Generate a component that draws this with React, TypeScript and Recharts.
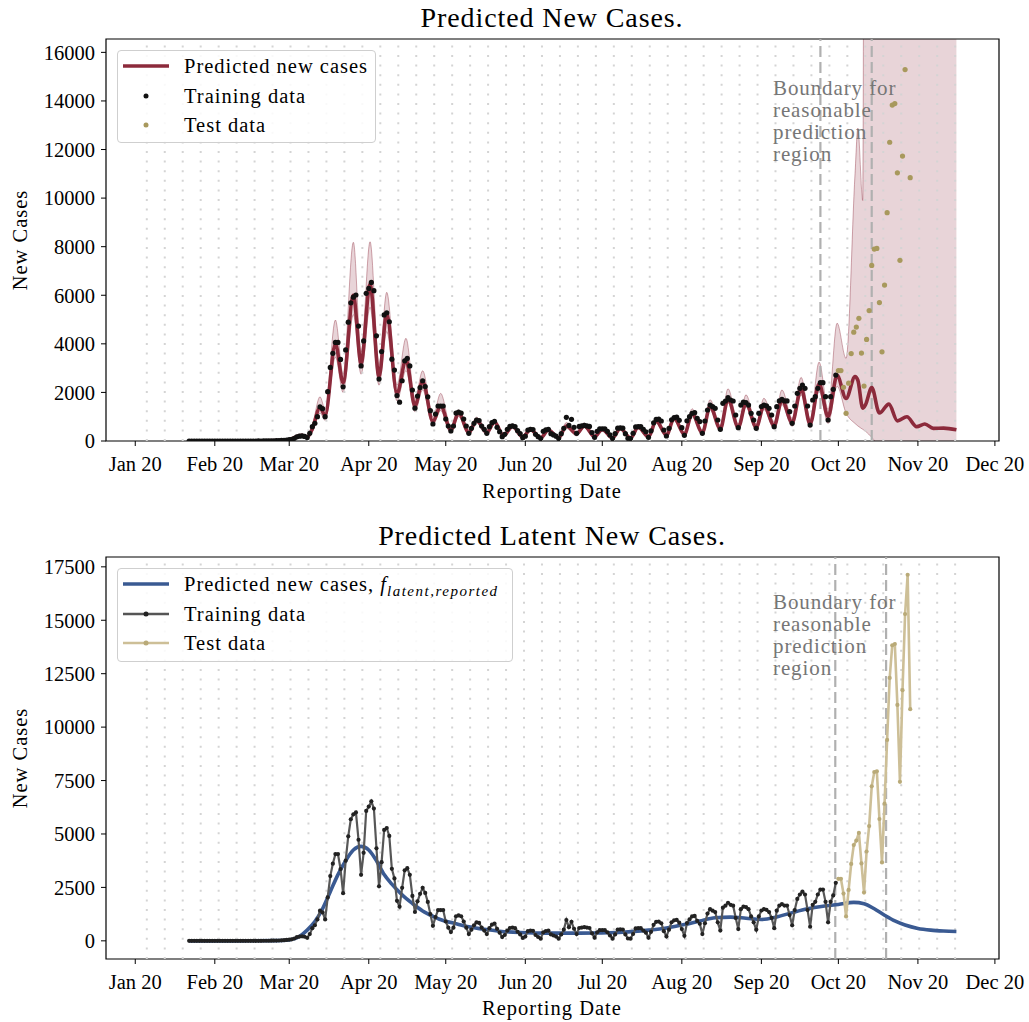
import React from 'react';
import {
  ComposedChart,
  Line,
  Area,
  Scatter,
  XAxis,
  YAxis,
  ReferenceLine,
  ReferenceArea,
} from 'recharts';

const FONT = '"Liberation Serif", "Times New Roman", serif';
const RED = '#8c2a3b';
const BLUE = '#3a5a92';
const OLIVE = '#a8995d';
const TAN = '#cdbf97';
const TAN_DOT = '#b9aa78';
const GRID = '#d4d4d4';
const BOUNDARY = '#b0b0b0';

// x is measured in days since 1 Jan 2020
const X_MIN = -11.4;
const X_MAX = 336.6;

const monthTicks = [0, 31, 60, 91, 121, 152, 182, 213, 244, 274, 305, 335];
const monthLabels = ['Jan 20', 'Feb 20', 'Mar 20', 'Apr 20', 'May 20', 'Jun 20', 'Jul 20', 'Aug 20', 'Sep 20', 'Oct 20', 'Nov 20', 'Dec 20'];

const topYTicks = [0, 2000, 4000, 6000, 8000, 10000, 12000, 14000, 16000];
const bottomYTicks = [0, 2500, 5000, 7500, 10000, 12500, 15000, 17500];
const TOP_Y: [number, number] = [0, 16550];
const BOTTOM_Y: [number, number] = [-850, 17960];

const topBoundaries = [267, 287];
const bottomBoundaries = [272.8, 292.6];

// weekly dotted guides
const weeklyGuides = Array.from({ length: 46 }, (_, i) => 4.5 + 7 * i);

// reported daily new cases used for fitting (first value is 22 Jan)
const trainStart = 21;
const trainCases = [
  0, 0, 0, 0, 0, 0, 0, 0, 0, 0,
  0, 0, 0, 0, 0, 0, 0, 0, 0, 0,
  0, 0, 0, 0, 0, 1, 0, 2, 1, 3,
  5, 4, 8, 10, 12, 15, 22, 30, 42, 55,
  70, 110, 170, 200, 210, 190, 140, 316, 590, 730,
  1000, 1410, 1330, 1000, 2030, 3030, 3610, 4060, 4060, 3360,
  2230, 3750, 4890, 5690, 5920, 6010, 4730, 3090, 4120, 6080,
  6280, 6530, 6190, 4330, 2550, 3680, 5190, 5280, 4910, 3370,
  2920, 1870, 1600, 2480, 3300, 3400, 3090, 2100, 1350, 1850,
  2200, 2480, 2240, 1820, 1250, 700, 1110, 1440, 1440, 1440,
  905, 617, 411, 617, 1150, 1190, 1150, 905, 617, 316,
  521, 727, 864, 840, 617, 480, 316, 590, 754, 810,
  562, 384, 178, 274, 480, 600, 620, 590, 425, 300,
  137, 200, 450, 480, 470, 274, 180, 100, 400, 460,
  480, 300, 250, 200, 100, 300, 520, 975, 640, 893,
  565, 315, 600, 620, 640, 620, 600, 350, 150, 400,
  500, 500, 500, 400, 250, 100, 300, 530, 540, 530,
  300, 110, 100, 320, 580, 590, 590, 480, 380, 150,
  420, 750, 890, 900, 823, 452, 206, 521, 870, 960,
  980, 850, 550, 233, 830, 1000, 1140, 1166, 933, 800,
  316, 823, 1276, 1481, 1413, 1345, 864, 480, 1551, 1646,
  1783, 1687, 1646, 1070, 550, 1481, 1600, 1580, 1481, 1140,
  864, 521, 1140, 1420, 1480, 1450, 1345, 1070, 590, 1413,
  1650, 1715, 1650, 1650, 1207, 727, 1440, 1962, 2168, 2304,
  2168, 1440, 658, 1687, 1824, 2168, 2400, 2400, 1824, 864,
  1824, 2127, 2716,
];

// held-out daily new cases (first value is 1 Oct)
const testStart = 274;
const testCases = [
  2900, 2900, 2210, 1140, 2380, 3600, 4480, 4690, 5050, 3620,
  2260, 4180, 5370, 7230, 7900, 7930, 5700, 3670, 6420, 9400,
  12300, 13830, 13890, 11040, 7440, 11730, 15290, 17130, 10840,
];

// model output: mean and credible band
const predDays = [
  21, 45, 56, 60, 63, 65, 67, 69, 72, 74,
  78, 81, 85, 88, 91.5, 95, 98, 102, 105.5, 109,
  112, 116, 119, 123, 126, 130, 133, 137, 140, 143.5,
  147, 151, 154, 158, 161, 165, 168, 172, 175, 179,
  182, 186, 189, 193, 196, 200, 203, 207, 210, 214,
  217, 221, 224, 228, 231, 235, 238, 242, 245, 249,
  252, 256, 259.5, 263, 266.5, 270, 273.5, 277, 280.5, 281.6,
  283.5, 284.6, 287, 290, 293.7, 297, 300.7, 304.5, 307.7, 311,
  315, 320,
];
const predMean = [
  0, 0, 15, 50, 180, 220, 160, 500, 1380, 1050,
  4000, 2400, 6000, 3200, 6450, 2650, 5250, 1950, 3350, 1450,
  2450, 800, 1450, 450, 1150, 350, 850, 350, 780, 220,
  600, 170, 470, 130, 450, 130, 620, 300, 620, 180,
  480, 120, 520, 120, 570, 170, 830, 240, 940, 270,
  1120, 340, 1420, 500, 1720, 560, 1560, 560, 1460, 630,
  1680, 760, 2150, 700, 2350, 1000, 2700, 1750, 2650, 2500,
  1350, 1500, 2200, 1150, 1520, 830, 1000, 590, 700, 520,
  530, 460,
];
const predLow = [
  -30, -30, -20, 10, 100, 150, 90, 380, 1150, 850,
  3450, 2000, 5200, 2750, 5500, 2300, 4500, 1650, 2900, 1200,
  2100, 650, 1250, 330, 1000, 250, 740, 250, 680, 140,
  520, 90, 400, 60, 380, 60, 520, 210, 540, 100,
  410, 50, 450, 50, 490, 90, 730, 160, 830, 190,
  1000, 250, 1280, 400, 1560, 450, 1400, 440, 1300, 490,
  1500, 600, 1900, 540, 2050, 720, 2250, 1150, 720, 620,
  480, 400, 150, -200, -400, -600, -700, -800, -900, -1000,
  -1000, -1000,
];
const predHigh = [
  30, 30, 50, 100, 260, 300, 240, 650, 1820, 1300,
  4980, 2750, 8180, 3650, 8200, 3150, 6120, 2300, 4230, 1750,
  2890, 1000, 1960, 600, 1280, 460, 980, 460, 870, 320,
  700, 260, 560, 210, 530, 210, 760, 400, 740, 260,
  560, 200, 610, 200, 660, 260, 960, 330, 1060, 370,
  1330, 450, 1700, 640, 2150, 700, 1900, 700, 1760, 790,
  2100, 930, 2620, 900, 3250, 1300, 4850, 3400, 11000, 12880,
  9900, 60000, 60000, 60000, 60000, 60000, 60000, 60000, 60000, 60000,
  60000, 60000,
];

// latent (reporting-free) new cases
const latentDays = [
  21, 40, 55, 60, 64, 67, 70, 73, 76, 79,
  82, 85, 88, 91, 94, 97, 100, 104, 108, 112,
  116, 120, 125, 130, 136, 142, 150, 160, 170, 180,
  190, 200, 207, 214, 220, 226, 232, 238, 244, 250,
  256, 262, 268, 274, 280, 284, 288, 292, 296, 300,
  305, 310, 315, 320,
];
const latentCases = [
  0, 0, 10, 40, 200, 500, 900, 1500, 2300, 3100,
  3750, 4250, 4420, 4250, 3750, 3100, 2650, 2150, 1750, 1400,
  1150, 950, 800, 660, 540, 450, 390, 360, 360, 370,
  400, 500, 600, 760, 930, 1080, 1110, 1060, 1000, 1120,
  1320, 1500, 1620, 1700, 1800, 1740, 1500, 1200, 930, 740,
  580, 500, 460, 440,
];

const trainRows = trainCases.map((cases, i) => ({ day: trainStart + i, cases }));
const testRows = testCases.map((cases, i) => ({ day: testStart + i, cases }));
const predRows = predDays.map((day, i) => ({
  day,
  mean: predMean[i],
  band: [predLow[i], predHigh[i]],
}));
const latentRows = latentDays.map((day, i) => ({ day, latent: latentCases[i] }));

const tickStyle = { fill: '#000', fontSize: 20.5, fontFamily: FONT };
const textStyle: React.CSSProperties = { fontFamily: FONT, fontSize: 20.5, color: '#000', letterSpacing: 1 };

const dotShape = (fill: string, r: number) => (p: any) =>
  p.cx == null ? <g /> : <circle cx={p.cx} cy={p.cy} r={r} fill={fill} />;

const monthLabel = (v: number) => monthLabels[monthTicks.indexOf(v)] ?? '';

// plot box: x 106..999, y 39..441 inside each chart
const X_AXIS_H = 40;
const Y_AXIS_W = 96;
const CHART_MARGIN = { top: 39, right: 30, bottom: 69 - X_AXIS_H, left: 106 - Y_AXIS_W };

function axes(yDomain: [number, number], yTicks: number[]) {
  return [
    <XAxis
      key="x"
      dataKey="day"
      type="number"
      domain={[X_MIN, X_MAX]}
      allowDataOverflow
      ticks={monthTicks}
      interval={0}
      tickFormatter={monthLabel}
      height={X_AXIS_H}
      axisLine={false}
      tickLine={{ stroke: '#000' }}
      tickSize={5}
      tickMargin={10}
      tick={tickStyle}
    />,
    <YAxis
      key="y"
      type="number"
      domain={yDomain}
      allowDataOverflow
      ticks={yTicks}
      interval={0}
      width={Y_AXIS_W}
      axisLine={false}
      tickLine={{ stroke: '#000' }}
      tickSize={5}
      tickMargin={6}
      tick={tickStyle}
    />,
  ];
}

function guides(boundaries: number[]) {
  return [
    ...weeklyGuides.map((d) => (
      <ReferenceLine key={`w${d}`} x={d} stroke={GRID} strokeWidth={2} strokeDasharray="2 7.6" />
    )),
    ...boundaries.map((d) => (
      <ReferenceLine key={`b${d}`} x={d} stroke={BOUNDARY} strokeWidth={2.2} strokeDasharray="11 5" />
    )),
  ];
}

type LegendItem = {
  label: React.ReactNode;
  line?: string;
  lineWidth?: number;
  dot?: string;
  dotR?: number;
};

function LegendBox({ left, top, width, height, items }: {
  left: number; top: number; width: number; height: number; items: LegendItem[];
}) {
  return (
    <div
      style={{
        position: 'absolute', left, top, width, height, boxSizing: 'border-box',
        border: '1px solid #cfcfcf', borderRadius: 4, background: 'rgba(255,255,255,0.85)',
      }}
    >
      {items.map((it, i) => (
        <div key={i} style={{ position: 'absolute', left: 0, top: 15 + i * 29.5 - 12, height: 24, width: width - 2 }}>
          <svg width={60} height={24} style={{ position: 'absolute', left: 0, top: 0 }}>
            {it.line && <line x1={5} x2={51} y1={12} y2={12} stroke={it.line} strokeWidth={it.lineWidth ?? 3.5} />}
            {it.dot && <circle cx={28} cy={12} r={it.dotR ?? 2.5} fill={it.dot} />}
          </svg>
          <span style={{ ...textStyle, position: 'absolute', left: 66, top: 0, lineHeight: '24px', whiteSpace: 'nowrap' }}>
            {it.label}
          </span>
        </div>
      ))}
    </div>
  );
}

function Caption({ text, cx, top, size = 20.5, spacing = 1 }: { text: string; cx: number; top: number; size?: number; spacing?: number }) {
  return (
    <div
      style={{
        position: 'absolute', left: cx - 400, width: 800, top, textAlign: 'center',
        fontFamily: FONT, fontSize: size, lineHeight: `${size}px`, letterSpacing: spacing, whiteSpace: 'nowrap',
      }}
    >
      {text}
    </div>
  );
}

function YTitle({ cy }: { cy: number }) {
  return (
    <div
      style={{
        position: 'absolute', left: 20 - 100, top: cy - 12, width: 200, height: 24, lineHeight: '24px',
        textAlign: 'center', transform: 'rotate(-90deg)', fontFamily: FONT, fontSize: 20.5, letterSpacing: 1,
      }}
    >
      New Cases
    </div>
  );
}

function Note({ top }: { top: number }) {
  return (
    <div
      style={{
        position: 'absolute', left: 773, top, fontFamily: FONT, fontSize: 21, lineHeight: '22px',
        color: '#767676', letterSpacing: 0.9, whiteSpace: 'nowrap',
      }}
    >
      <div>Boundary for</div>
      <div>reasonable</div>
      <div>prediction</div>
      <div>region</div>
    </div>
  );
}

function TopPanel() {
  return (
    <div style={{ position: 'absolute', left: 0, top: 0 }}>
      <ComposedChart width={1029} height={510} margin={CHART_MARGIN}>
        {axes(TOP_Y, topYTicks)}
        <Area
          data={predRows}
          dataKey="band"
          type="monotone"
          fill={RED}
          fillOpacity={0.2}
          stroke={RED}
          strokeOpacity={0.4}
          strokeWidth={1}
          isAnimationActive={false}
        />
        {guides(topBoundaries)}
        <Line data={predRows} dataKey="mean" type="monotone" stroke={RED} strokeWidth={3.6} dot={false} isAnimationActive={false} />
        <Scatter data={trainRows} dataKey="cases" shape={dotShape('#111', 2.6)} isAnimationActive={false} />
        <Scatter data={testRows} dataKey="cases" shape={dotShape(OLIVE, 2.6)} isAnimationActive={false} />
        <ReferenceArea x1={X_MIN} x2={X_MAX} y1={TOP_Y[0]} y2={TOP_Y[1]} fill="none" stroke="#000" strokeWidth={1.2} />
      </ComposedChart>
    </div>
  );
}

function BottomPanel() {
  return (
    <div style={{ position: 'absolute', left: 0, top: 518 }}>
      <ComposedChart width={1029} height={504} margin={{ ...CHART_MARGIN, bottom: 63 - X_AXIS_H }}>
        {axes(BOTTOM_Y, bottomYTicks)}
        {guides(bottomBoundaries)}
        <Line data={latentRows} dataKey="latent" type="monotone" stroke={BLUE} strokeWidth={3.6} dot={false} isAnimationActive={false} />
        <Line
          data={trainRows}
          dataKey="cases"
          type="linear"
          stroke="#575757"
          strokeWidth={2.2}
          dot={{ r: 2.1, fill: '#222', stroke: 'none' }}
          isAnimationActive={false}
        />
        <Line
          data={testRows}
          dataKey="cases"
          type="linear"
          stroke={TAN}
          strokeWidth={2.6}
          dot={{ r: 2.1, fill: TAN_DOT, stroke: 'none' }}
          isAnimationActive={false}
        />
        <ReferenceArea x1={X_MIN} x2={X_MAX} y1={BOTTOM_Y[0]} y2={BOTTOM_Y[1]} fill="none" stroke="#000" strokeWidth={1.2} />
      </ComposedChart>
    </div>
  );
}

export default function App() {
  return (
    <div style={{ position: 'absolute', left: 0, top: 0, width: 1029, height: 1022, background: '#fff', overflow: 'hidden' }}>
      <TopPanel />
      <BottomPanel />

      <Caption text="Predicted New Cases." cx={552} top={4} size={28} spacing={0.9} />
      <Caption text="Reporting Date" cx={552} top={481} />
      <YTitle cy={240} />
      <Note top={77} />
      <LegendBox
        left={117}
        top={50}
        width={259}
        height={93}
        items={[
          { label: 'Predicted new cases', line: RED },
          { label: 'Training data', dot: '#111' },
          { label: 'Test data', dot: OLIVE },
        ]}
      />

      <Caption text="Predicted Latent New Cases." cx={552} top={522} size={28} spacing={0.9} />
      <Caption text="Reporting Date" cx={552} top={998} />
      <YTitle cy={758} />
      <Note top={591} />
      <LegendBox
        left={117}
        top={568}
        width={396}
        height={94}
        items={[
          {
            label: (
              <>
                Predicted new cases, <i>f</i>
                <sub style={{ fontStyle: 'italic', fontSize: 15, letterSpacing: 1.5 }}>latent,reported</sub>
              </>
            ),
            line: BLUE,
          },
          { label: 'Training data', line: '#555', lineWidth: 2.4, dot: '#222' },
          { label: 'Test data', line: TAN, lineWidth: 2.4, dot: TAN_DOT },
        ]}
      />
    </div>
  );
}
